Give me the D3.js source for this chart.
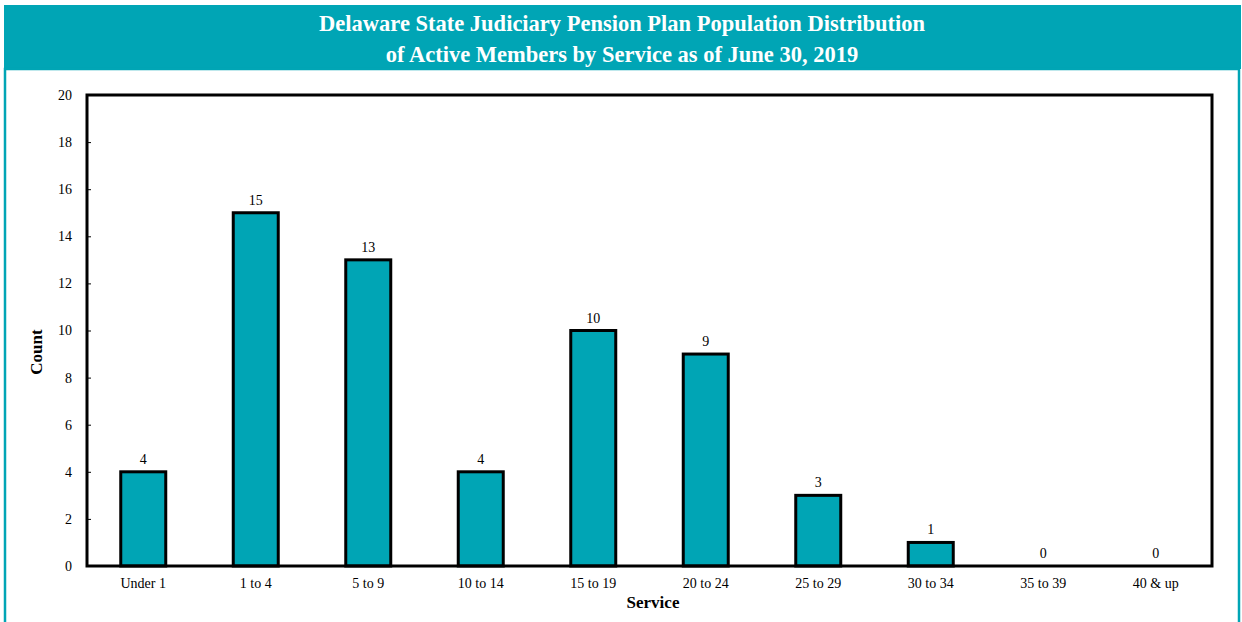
<!DOCTYPE html>
<html><head><meta charset="utf-8">
<script src="https://cdn.jsdelivr.net/npm/d3@7"></script>
<style>body{margin:0;background:#fff}svg{display:block}svg text{font-family:"Liberation Serif","Times New Roman",serif !important}</style>
</head><body>
<svg id="c" width="1242" height="622"></svg>
<script>
const categories = ["Under 1","1 to 4","5 to 9","10 to 14","15 to 19","20 to 24","25 to 29","30 to 34","35 to 39","40 & up"];
const counts = [4,15,13,4,10,9,3,1,0,0];
const yTicks = [0,2,4,6,8,10,12,14,16,18,20];
const titleLines = ["Delaware State Judiciary Pension Plan Population Distribution","of Active Members by Service as of June 30, 2019"];

const teal = "#00A5B5";
const svg = d3.select("#c");
svg.append("rect").attr("x",4).attr("y",5).attr("width",1237).attr("height",64).attr("fill",teal);
svg.append("rect").attr("x",5).attr("y",69).attr("width",1234).attr("height",560).attr("fill","none").attr("stroke",teal).attr("stroke-width",2.5);
titleLines.forEach((t,i)=>svg.append("text").attr("x",622).attr("y",31+i*31).attr("text-anchor","middle")
  .attr("fill","#fff").attr("font-weight","bold").attr("font-size",22.5).text(t));

const L=87,R=1212,T=95,B=566;
const x = d3.scaleBand().domain(categories).range([L,R]).paddingInner(0.6).paddingOuter(0.3);
const y = d3.scaleLinear().domain([0,20]).range([B,T]);

const g = svg.append("g");
g.selectAll("rect.bar").data(counts).join("rect").attr("class","bar")
  .attr("x",(d,i)=>x(categories[i])).attr("width",x.bandwidth())
  .attr("y",d=>y(d)).attr("height",d=>B-y(d))
  .attr("fill",teal).attr("stroke","#000").attr("stroke-width",3);
g.selectAll("text.val").data(counts).join("text").attr("class","val")
  .attr("x",(d,i)=>x(categories[i])+x.bandwidth()/2).attr("y",d=>y(d)-8)
  .attr("text-anchor","middle").attr("font-size",14).text(d=>d);

const ya = svg.append("g").attr("transform",`translate(${L},0)`)
  .call(d3.axisLeft(y).tickValues(yTicks).tickSizeInner(-4).tickSizeOuter(0).tickPadding(15));
ya.select(".domain").remove();
ya.selectAll("text").attr("font-size",14).attr("fill","#000");
ya.selectAll("line").attr("stroke-width",1);
const xa = svg.append("g").attr("transform",`translate(0,${B})`)
  .call(d3.axisBottom(x).tickSize(0).tickPadding(12));
xa.select(".domain").remove();
xa.selectAll("text").attr("font-size",14).attr("fill","#000");

svg.append("rect").attr("x",L).attr("y",T).attr("width",R-L).attr("height",B-T)
  .attr("fill","none").attr("stroke","#000").attr("stroke-width",3);

svg.append("text").attr("x",653).attr("y",608).attr("text-anchor","middle")
  .attr("font-weight","bold").attr("font-size",17).text("Service");
svg.append("text").attr("transform",`translate(42,${352}) rotate(-90)`).attr("text-anchor","middle")
  .attr("font-weight","bold").attr("font-size",17).text("Count");
</script>
</body></html>
